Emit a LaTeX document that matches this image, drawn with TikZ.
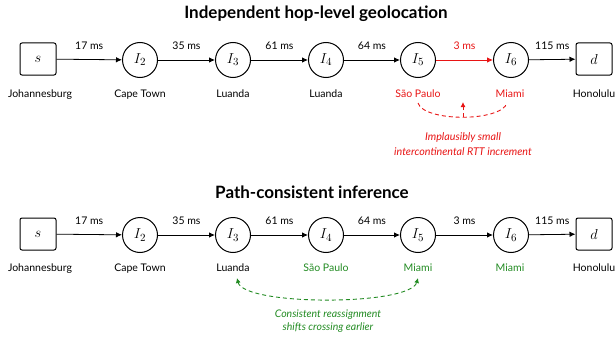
\documentclass[tikz,border=0pt]{standalone}
\usepackage{fontspec}
\setmainfont{Lato}
\usetikzlibrary{arrows.meta}
\definecolor{myred}{RGB}{232,20,20}
\definecolor{mygreen}{RGB}{34,139,34}
\begin{document}
\begin{tikzpicture}[x=1pt,y=-1pt,
  hop/.style={circle,draw,line width=1pt,minimum size=35pt,inner sep=0pt,font=\fontsize{15.5}{15.5}\selectfont},
  endpt/.style={rectangle,rounded corners=2pt,draw,line width=1pt,minimum width=36pt,minimum height=32pt,inner sep=0pt,font=\fontsize{15.5}{15.5}\selectfont},
  lbl/.style={font=\fontsize{10.5}{12}\selectfont,text height=8pt,text depth=2pt,inner sep=0pt},
  ttl/.style={font=\bfseries\fontsize{17}{19}\selectfont},
  note/.style={align=center},
  edge/.style={-{Latex[length=6pt,width=5.5pt]},line width=0.8pt},
  ms/.style={midway,yshift=14pt,font=\fontsize{10.5}{12}\selectfont,inner sep=0pt},
  arc/.style={dashed,dash pattern=on 4pt off 3pt,line width=0.9pt}]
\useasboundingbox (0,0) rectangle (615,337);

% ---------- top ----------
\node[ttl] (t1) at (316,14) {Independent hop-level geolocation};
\node[endpt] (s)  at (38,59)  {$s$};
\node[hop]   (a2) at (140,60) {$I_2$};
\node[hop]   (a3) at (233,60) {$I_3$};
\node[hop]   (a4) at (326,60) {$I_4$};
\node[hop]   (a5) at (418,60) {$I_5$};
\node[hop]   (a6) at (511,60) {$I_6$};
\node[endpt] (d)  at (594,59) {$d$};
\draw[edge] (s) -- node[ms] {17 ms} (a2);
\draw[edge] (a2) -- node[ms] {35 ms} (a3);
\draw[edge] (a3) -- node[ms] {61 ms} (a4);
\draw[edge] (a4) -- node[ms] {64 ms} (a5);
\draw[edge,myred] (a5) -- node[ms,text=myred] {3 ms} (a6);
\draw[edge] (a6) -- node[ms] {115 ms} (d);
\node[lbl] (ls) at (40,94) {Johannesburg};
\node[lbl] (l2) at (140,94) {Cape Town};
\node[lbl] (l3) at (233,94) {Luanda};
\node[lbl] (l4) at (326,94) {Luanda};
\node[lbl,text=myred] (l5) at (418,94) {São Paulo};
\node[lbl,text=myred] (l6) at (510,94) {Miami};
\node[lbl] (ld) at (594,94) {Honolulu};
\coordinate (r1) at (418,103);
\coordinate (r2) at (507,103);
\coordinate (rb) at (463,117);
\coordinate (rt) at (463,102);
\draw[arc,myred] (r1) .. controls (424,122) and (501,122) .. (r2);
\draw[arc,myred,-{Latex[length=5pt,width=5pt]}] (rb) -- (rt);
\node[note,text=myred,font=\itshape\fontsize{10.7}{15}\selectfont] (n1) at (463,144.5) {Implausibly small\\intercontinental RTT increment};

% ---------- bottom ----------
\node[ttl] (t2) at (312,192) {Path-consistent inference};
\node[endpt] (s')  at (38,234)  {$s$};
\node[hop]   (b2) at (140,235) {$I_2$};
\node[hop]   (b3) at (233,235) {$I_3$};
\node[hop]   (b4) at (326,235) {$I_4$};
\node[hop]   (b5) at (418,235) {$I_5$};
\node[hop]   (b6) at (511,235) {$I_6$};
\node[endpt] (d')  at (594,234) {$d$};
\draw[edge] (s') -- node[ms] {17 ms} (b2);
\draw[edge] (b2) -- node[ms] {35 ms} (b3);
\draw[edge] (b3) -- node[ms] {61 ms} (b4);
\draw[edge] (b4) -- node[ms] {64 ms} (b5);
\draw[edge] (b5) -- node[ms] {3 ms} (b6);
\draw[edge] (b6) -- node[ms] {115 ms} (d');
\node[lbl] (ms') at (40,268) {Johannesburg};
\node[lbl] (m2) at (140,268) {Cape Town};
\node[lbl] (m3) at (233,268) {Luanda};
\node[lbl,text=mygreen] (m4) at (326,268) {São Paulo};
\node[lbl,text=mygreen] (m5) at (418,268) {Miami};
\node[lbl,text=mygreen] (m6) at (510,268) {Miami};
\node[lbl] (md) at (594,268) {Honolulu};
\coordinate (g1) at (237,278);
\coordinate (g2) at (418,278);
\draw[arc,mygreen,{Latex[length=5pt,width=5pt]}-{Latex[length=5pt,width=5pt]}] (g1) .. controls (244,306) and (410,306) .. (g2);
\node[note,text=mygreen,font=\itshape\fontsize{10.5}{13}\selectfont] (n2) at (328,321.5) {Consistent reassignment\\shifts crossing earlier};
\end{tikzpicture}
\end{document}
